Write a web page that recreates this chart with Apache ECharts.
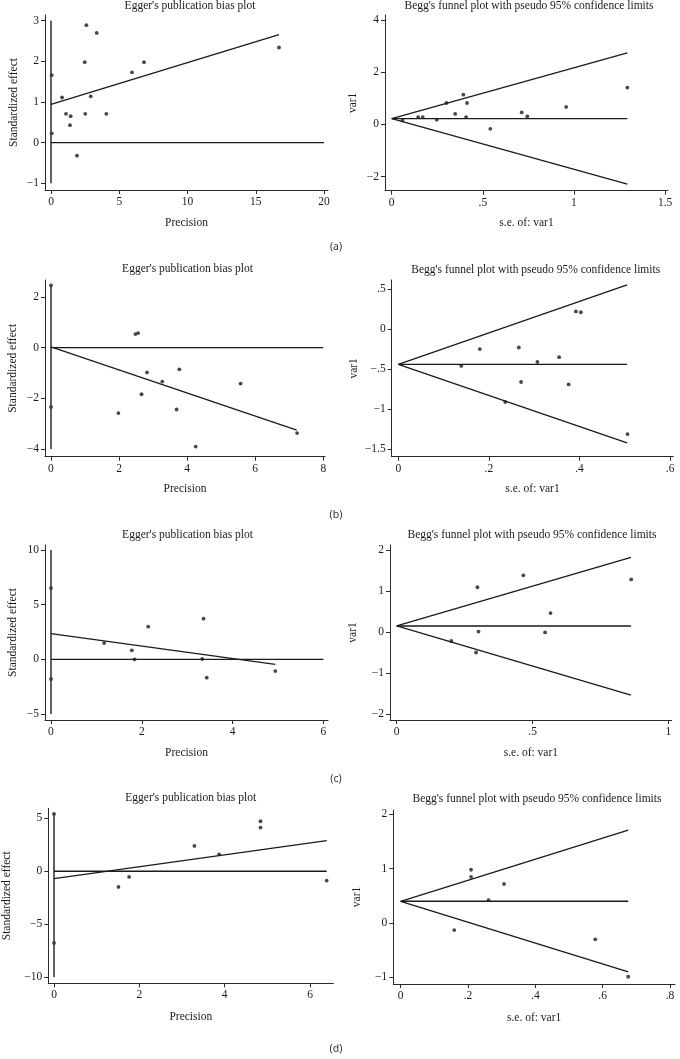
<!DOCTYPE html>
<html>
<head>
<meta charset="utf-8">
<script src="https://cdn.jsdelivr.net/npm/echarts@6/dist/echarts.min.js"></script>
<style>
html,body{margin:0;padding:0;background:#fff;}
#chart{width:680px;height:1059px;}
</style>
</head>
<body>
<div id="chart"></div>
<script>
// ---------- DATA ----------
// Panel (a)
const eggerA_points = [[0.05,1.66],[0.05,0.23],[0.81,1.11],[1.10,0.71],[1.44,0.65],[1.39,0.43],[1.90,-0.32],[2.47,1.98],[2.59,2.89],[2.51,0.71],[2.91,1.14],[3.35,2.70],[4.05,0.71],[5.93,1.73],[6.81,1.98],[16.70,2.34]];
const eggerA_fit = [[0,0.94],[16.7,2.66]];
const eggerA_ci = [[0,3.0],[0,-1.0]];
const eggerA_zero = [[0,0],[20,0]];
const eggerA_xTicks = [0,5,10,15,20];
const eggerA_yTicks = [-1,0,1,2,3];

const beggA_points = [[0.059,0.15],[0.145,0.28],[0.17,0.28],[0.247,0.18],[0.30,0.82],[0.348,0.40],[0.393,1.14],[0.413,0.82],[0.408,0.28],[0.541,-0.17],[0.713,0.46],[0.744,0.31],[0.957,0.67],[1.293,1.41]];
const beggA_center = [[0,0.22],[1.293,0.22]];
const beggA_upper = [[0,0.22],[1.293,2.74]];
const beggA_lower = [[0,0.22],[1.293,-2.29]];
const beggA_xTicks = [0,0.5,1,1.5];
const beggA_yTicks = [-2,0,2,4];

// Panel (b)
const eggerB_points = [[0,2.45],[0,-2.34],[2.48,0.53],[2.56,0.57],[1.98,-2.58],[2.66,-1.84],[2.82,-0.98],[3.27,-1.34],[3.77,-0.86],[3.69,-2.44],[4.25,-3.90],[5.57,-1.42],[7.23,-3.37]];
const eggerB_fit = [[0,0.03],[7.22,-3.25]];
const eggerB_ci = [[0,2.45],[0,-4.0]];
const eggerB_zero = [[0,0],[8,0]];
const eggerB_xTicks = [0,2,4,6,8];
const eggerB_yTicks = [-4,-2,0,2];

const beggB_points = [[0.139,-0.46],[0.180,-0.25],[0.236,-0.91],[0.266,-0.23],[0.271,-0.66],[0.307,-0.41],[0.355,-0.35],[0.376,-0.69],[0.392,0.22],[0.403,0.21],[0.506,-1.31]];
const beggB_center = [[0,-0.44],[0.505,-0.44]];
const beggB_upper = [[0,-0.44],[0.505,0.55]];
const beggB_lower = [[0,-0.44],[0.505,-1.42]];
const beggB_xTicks = [0,0.2,0.4,0.6];
const beggB_yTicks = [-1.5,-1,-0.5,0,0.5];

// Panel (c)
const eggerC_points = [[0,6.52],[0,-1.80],[1.17,1.49],[1.78,0.82],[1.84,0.0],[2.14,2.99],[3.33,0.03],[3.36,3.72],[3.43,-1.68],[4.94,-1.07]];
const eggerC_fit = [[0,2.35],[4.94,-0.46]];
const eggerC_ci = [[0,10],[0,-5]];
const eggerC_zero = [[0,0],[6,0]];
const eggerC_xTicks = [0,2,4,6];
const eggerC_yTicks = [-5,0,5,10];

const beggC_points = [[0.201,-0.22],[0.292,-0.50],[0.297,1.09],[0.301,0.01],[0.466,1.38],[0.546,-0.01],[0.566,0.46],[0.863,1.28]];
const beggC_center = [[0,0.146],[0.862,0.146]];
const beggC_upper = [[0,0.146],[0.862,1.82]];
const beggC_lower = [[0,0.146],[0.862,-1.54]];
const beggC_xTicks = [0,0.5,1];
const beggC_yTicks = [-2,-1,0,1,2];

// Panel (d)
const eggerD_points = [[0,5.41],[0,-6.76],[1.51,-1.48],[1.76,-0.53],[3.29,2.39],[3.87,1.60],[4.84,4.72],[4.84,4.12],[6.39,-0.88]];
const eggerD_fit = [[0,-0.69],[6.39,2.89]];
const eggerD_ci = [[0,5.41],[0,-10]];
const eggerD_zero = [[0,0],[6.39,0]];
const eggerD_xTicks = [0,2,4,6];
const eggerD_yTicks = [-10,-5,0,5];

const beggD_points = [[0.159,-0.13],[0.209,0.98],[0.209,0.85],[0.261,0.42],[0.307,0.72],[0.578,-0.30],[0.676,-0.99]];
const beggD_center = [[0,0.40],[0.676,0.40]];
const beggD_upper = [[0,0.40],[0.676,1.71]];
const beggD_lower = [[0,0.40],[0.676,-0.90]];
const beggD_xTicks = [0,0.2,0.4,0.6,0.8];
const beggD_yTicks = [-1,0,1,2];

const eggerTitle = "Egger's publication bias plot";
const beggTitle = "Begg's funnel plot with pseudo 95% confidence limits";
const eggerXName = 'Precision', eggerYName = 'Standardized effect';
const beggXName = 's.e. of: var1', beggYName = 'var1';
const panelLabels = ['(a)','(b)','(c)','(d)'];

// ---------- LAYOUT ----------
const SERIF = '"Liberation Serif","DejaVu Serif",serif';
const INK = '#1a1a1a';
const panels = [
  {kind:'egger', grid:[45,15,283,175], x:[-0.44,20.29], y:[-1.165,3.14], xt:eggerA_xTicks, yt:eggerA_yTicks, pts:eggerA_points, lines:[eggerA_fit,eggerA_zero], ci:eggerA_ci, title:[190,6], yGap:25.5, xGap:26.5},
  {kind:'begg', grid:[385,15,283,175.7], x:[-0.037,1.516], y:[-2.54,4.19], xt:beggA_xTicks, yt:beggA_yTicks, pts:beggA_points, lines:[beggA_center,beggA_upper,beggA_lower], title:[529,6], yGap:26, xGap:26.5},
  {kind:'egger', grid:[45,280,280,176.7], x:[-0.176,8.05], y:[-4.30,2.66], xt:eggerB_xTicks, yt:eggerB_yTicks, pts:eggerB_points, lines:[eggerB_fit,eggerB_zero], ci:eggerB_ci, title:[187.5,269], yGap:26, xGap:26.5},
  {kind:'begg', grid:[391.7,280,281.6,176.7], x:[-0.0146,0.607], y:[-1.592,0.612], xt:beggB_xTicks, yt:beggB_yTicks, pts:beggB_points, lines:[beggB_center,beggB_upper,beggB_lower], title:[535.7,270], yGap:32, xGap:26.5},
  {kind:'egger', grid:[45,545,283,175], x:[-0.132,6.10], y:[-5.55,10.46], xt:eggerC_xTicks, yt:eggerC_yTicks, pts:eggerC_points, lines:[eggerC_fit,eggerC_zero], ci:eggerC_ci, title:[187.5,535], yGap:26, xGap:27},
  {kind:'begg', grid:[390,545,281.7,175], x:[-0.0247,1.012], y:[-2.146,2.12], xt:beggC_xTicks, yt:beggC_yTicks, pts:beggC_points, lines:[beggC_center,beggC_upper,beggC_lower], title:[532,535], yGap:31.5, xGap:27},
  {kind:'egger', grid:[48.3,808.3,285,175], x:[-0.134,6.546], y:[-10.57,5.94], xt:eggerD_xTicks, yt:eggerD_yTicks, pts:eggerD_points, lines:[eggerD_fit,eggerD_zero], ci:eggerD_ci, title:[190.7,798.3], yGap:35.5, xGap:28},
  {kind:'begg', grid:[393.3,810,281.7,174], x:[-0.022,0.815], y:[-1.123,2.08], xt:beggD_xTicks, yt:beggD_yTicks, pts:beggD_points, lines:[beggD_center,beggD_upper,beggD_lower], title:[537,799], yGap:30.5, xGap:28}
];
const labelPos = [[336,247],[336,515],[336,779],[336,1049]];

function fmt(v){
  let s = String(Math.round(v*1000)/1000);
  s = s.replace(/^(-?)0\./,'$1.');
  return s.replace('-','\u2212');
}

const grids=[], xAxes=[], yAxes=[], series=[], graphics=[];
panels.forEach((p,i)=>{
  grids.push({left:p.grid[0], top:p.grid[1], width:p.grid[2], height:p.grid[3], containLabel:false, outerBoundsMode:'none'});
  const common = {
    type:'value', gridIndex:i, scale:false,
    axisLine:{show:true, onZero:false, lineStyle:{color:'#2a2a2a', width:1}},
    splitLine:{show:false},
    nameLocation:'middle',
    nameTextStyle:{fontFamily:SERIF, fontSize:11.5, color:INK}
  };
  xAxes.push(Object.assign({}, common, {
    min:p.x[0], max:p.x[1],
    axisTick:{show:true, length:4, lineStyle:{color:'#2a2a2a'}, customValues:p.xt},
    axisLabel:{show:true, customValues:p.xt, formatter:fmt, fontFamily:SERIF, fontSize:11.5, color:INK, margin:6},
    name: p.kind==='egger'?eggerXName:beggXName, nameGap:p.xGap
  }));
  yAxes.push(Object.assign({}, common, {
    min:p.y[0], max:p.y[1],
    axisTick:{show:true, length:4, lineStyle:{color:'#2a2a2a'}, customValues:p.yt},
    axisLabel:{show:true, customValues:p.yt, formatter:fmt, fontFamily:SERIF, fontSize:11.5, color:INK, margin:6},
    name: p.kind==='egger'?eggerYName:beggYName, nameGap:p.yGap
  }));
  if(p.ci){
    series.push({type:'line', xAxisIndex:i, yAxisIndex:i, data:p.ci, showSymbol:false, silent:true,
      lineStyle:{color:'#3a3a3a', width:1.6}});
  }
  p.lines.forEach(ln=>{
    series.push({type:'line', xAxisIndex:i, yAxisIndex:i, data:ln, showSymbol:false, silent:true,
      lineStyle:{color:'#1a1a1a', width:1.3}});
  });
  series.push({type:'scatter', xAxisIndex:i, yAxisIndex:i, data:p.pts, symbol:'circle', symbolSize:3.8, silent:true,
    itemStyle:{color:'#1a1a1a'}});
  graphics.push({type:'text', x:p.title[0], y:p.title[1], silent:true,
    style:{text:p.kind==='egger'?eggerTitle:beggTitle, fontFamily:SERIF, fontSize:11.5, fill:INK, align:'center', verticalAlign:'middle'}});
});
panelLabels.forEach((t,k)=>{
  graphics.push({type:'text', x:labelPos[k][0], y:labelPos[k][1], silent:true,
    style:{text:t, fontFamily:'"Noto Sans","DejaVu Sans",sans-serif', fontSize:10.5, fill:'#333', align:'center', verticalAlign:'middle'}});
});

const chart = echarts.init(document.getElementById('chart'), null, {renderer:'canvas'});
chart.setOption({
  animation:false,
  backgroundColor:'#fff',
  grid:grids, xAxis:xAxes, yAxis:yAxes, series:series, graphic:graphics
});
</script>
</body>
</html>
